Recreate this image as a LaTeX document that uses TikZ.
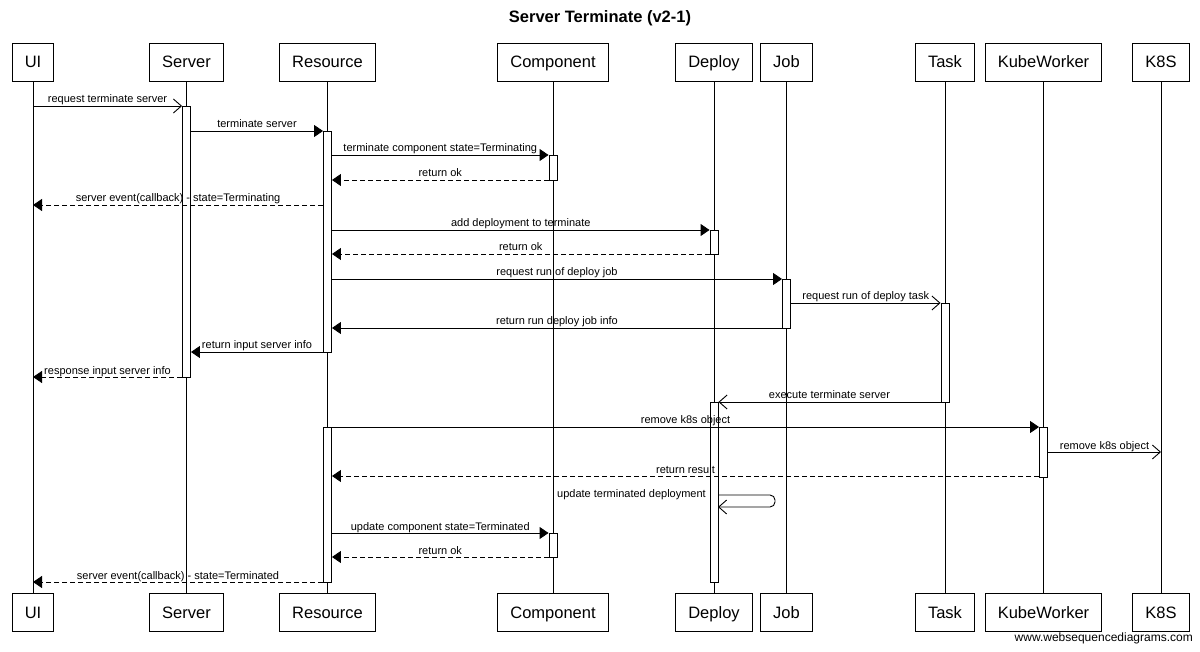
\documentclass[tikz,border=0pt]{standalone}
\usepackage{fontspec}
\setmainfont{Liberation Sans}
\usetikzlibrary{arrows.meta}

\tikzset{
  actor/.style={draw, fill=white, line width=0.9pt, minimum height=38pt, inner xsep=12.5pt,
    font=\fontsize{16.5}{18}\selectfont, text height=14pt, text depth=2pt},
  life/.style={line width=0.9pt},
  act/.style={draw, fill=white, line width=0.9pt, minimum width=8pt, inner sep=0pt, anchor=north},
  msg/.style={line width=0.9pt},
  sync/.style={msg, -{Triangle[length=9pt,width=12pt]}},
  async/.style={msg, -{Straight Barb[length=8pt,width=14pt]}},
  reply/.style={msg, dash pattern=on 5pt off 3pt, -{Triangle[length=9pt,width=12pt]}},
  lbl/.style={anchor=base, yshift=3pt, inner sep=0pt, font=\fontsize{11}{12}\selectfont}
}

\begin{document}
\begin{tikzpicture}[x=1pt, y=-1pt]
  \useasboundingbox (0,0) rectangle (1200,652);

  \node[font=\bfseries\fontsize{16.5}{18}\selectfont, anchor=base] (title) at (600,23) {Server Terminate (v2-1)};

  % participants and lifelines
  \foreach \n/\x in {UI/33, Server/186.5, Resource/327.5, Component/553, Deploy/714,
                     Job/786.5, Task/945, KubeWorker/1043.5, K8S/1161}{
    \node[actor] (\n) at (\x,62) {\n};
    \node[actor] (\n-end) at (\x,612) {\n};
    \draw[life] (\n) -- (\n-end);
  }

  % activations
  \node[act, minimum height=271pt] (srvAct) at (186.5,106) {};
  \node[act, minimum height=221pt] (resAct1) at (327.5,131) {};
  \node[act, minimum height=25pt] (cmpAct1) at (553,155) {};
  \node[act, minimum height=24pt] (depAct1) at (714,230) {};
  \node[act, minimum height=49pt] (jobAct) at (786.5,279) {};
  \node[act, minimum height=99pt] (taskAct) at (945,303) {};
  \node[act, minimum height=180pt] (depAct2) at (714,402) {};
  \node[act, minimum height=155pt] (resAct2) at (327.5,427) {};
  \node[act, minimum height=50pt] (kwAct) at (1043.5,427) {};
  \node[act, minimum height=24pt] (cmpAct2) at (553,533) {};

  % messages
  \draw[async] (UI |- 0,106) -- (srvAct.west |- 0,106) node[lbl,midway] {request terminate server};
  \draw[sync] (srvAct.east |- 0,131) -- (resAct1.west |- 0,131) node[lbl,midway] {terminate server};
  \draw[sync] (resAct1.east |- 0,155) -- (cmpAct1.west |- 0,155) node[lbl,midway] {terminate component state=Terminating};
  \draw[reply] (cmpAct1.west |- 0,180) -- (resAct1.east |- 0,180) node[lbl,midway] {return ok};
  \draw[reply] (resAct1.west |- 0,205) -- (UI |- 0,205) node[lbl,midway] {server event(callback) - state=Terminating};
  \draw[sync] (resAct1.east |- 0,230) -- (depAct1.west |- 0,230) node[lbl,midway] {add deployment to terminate};
  \draw[reply] (depAct1.west |- 0,254) -- (resAct1.east |- 0,254) node[lbl,midway] {return ok};
  \draw[sync] (resAct1.east |- 0,279) -- (jobAct.west |- 0,279) node[lbl,midway] {request run of deploy job};
  \draw[async] (jobAct.east |- 0,303) -- (taskAct.west |- 0,303) node[lbl,midway] {request run of deploy task};
  \draw[sync] (jobAct.west |- 0,328) -- (resAct1.east |- 0,328) node[lbl,midway] {return run deploy job info};
  \draw[sync] (resAct1.west |- 0,352) -- (srvAct.east |- 0,352) node[lbl,midway] {return input server info};
  \draw[reply] (srvAct.west |- 0,377) -- (UI |- 0,377) node[lbl,midway] {response input server info};
  \draw[async] (taskAct.west |- 0,402) -- (depAct2.east |- 0,402) node[lbl,midway] {execute terminate server};
  \draw[sync] (resAct2.east |- 0,427) -- (kwAct.west |- 0,427) node[lbl,midway] {remove k8s object};
  \draw[async] (kwAct.east |- 0,452) -- (K8S |- 0,452) node[lbl,midway] {remove k8s object};
  \draw[reply] (kwAct.west |- 0,476) -- (resAct2.east |- 0,476) node[lbl,midway] {return result};

  % self call on Deploy
  \coordinate (selfOut) at (718,495);
  \coordinate (selfIn) at (718,507);
  \draw[async, rounded corners=5pt] (selfOut) -- ++(57,0) |- (selfIn);
  \node[lbl, anchor=base east] (selfLbl) at (706,500.5) {update terminated deployment};

  \draw[sync] (resAct2.east |- 0,533) -- (cmpAct2.west |- 0,533) node[lbl,midway] {update component state=Terminated};
  \draw[reply] (cmpAct2.west |- 0,557) -- (resAct2.east |- 0,557) node[lbl,midway] {return ok};
  \draw[reply] (resAct2.west |- 0,582) -- (UI |- 0,582) node[lbl,midway] {server event(callback) - state=Terminated};

  \node[font=\fontsize{12}{13}\selectfont, anchor=base east, inner sep=0pt] (credit) at (1193,641) {www.websequencediagrams.com};
\end{tikzpicture}
\end{document}
